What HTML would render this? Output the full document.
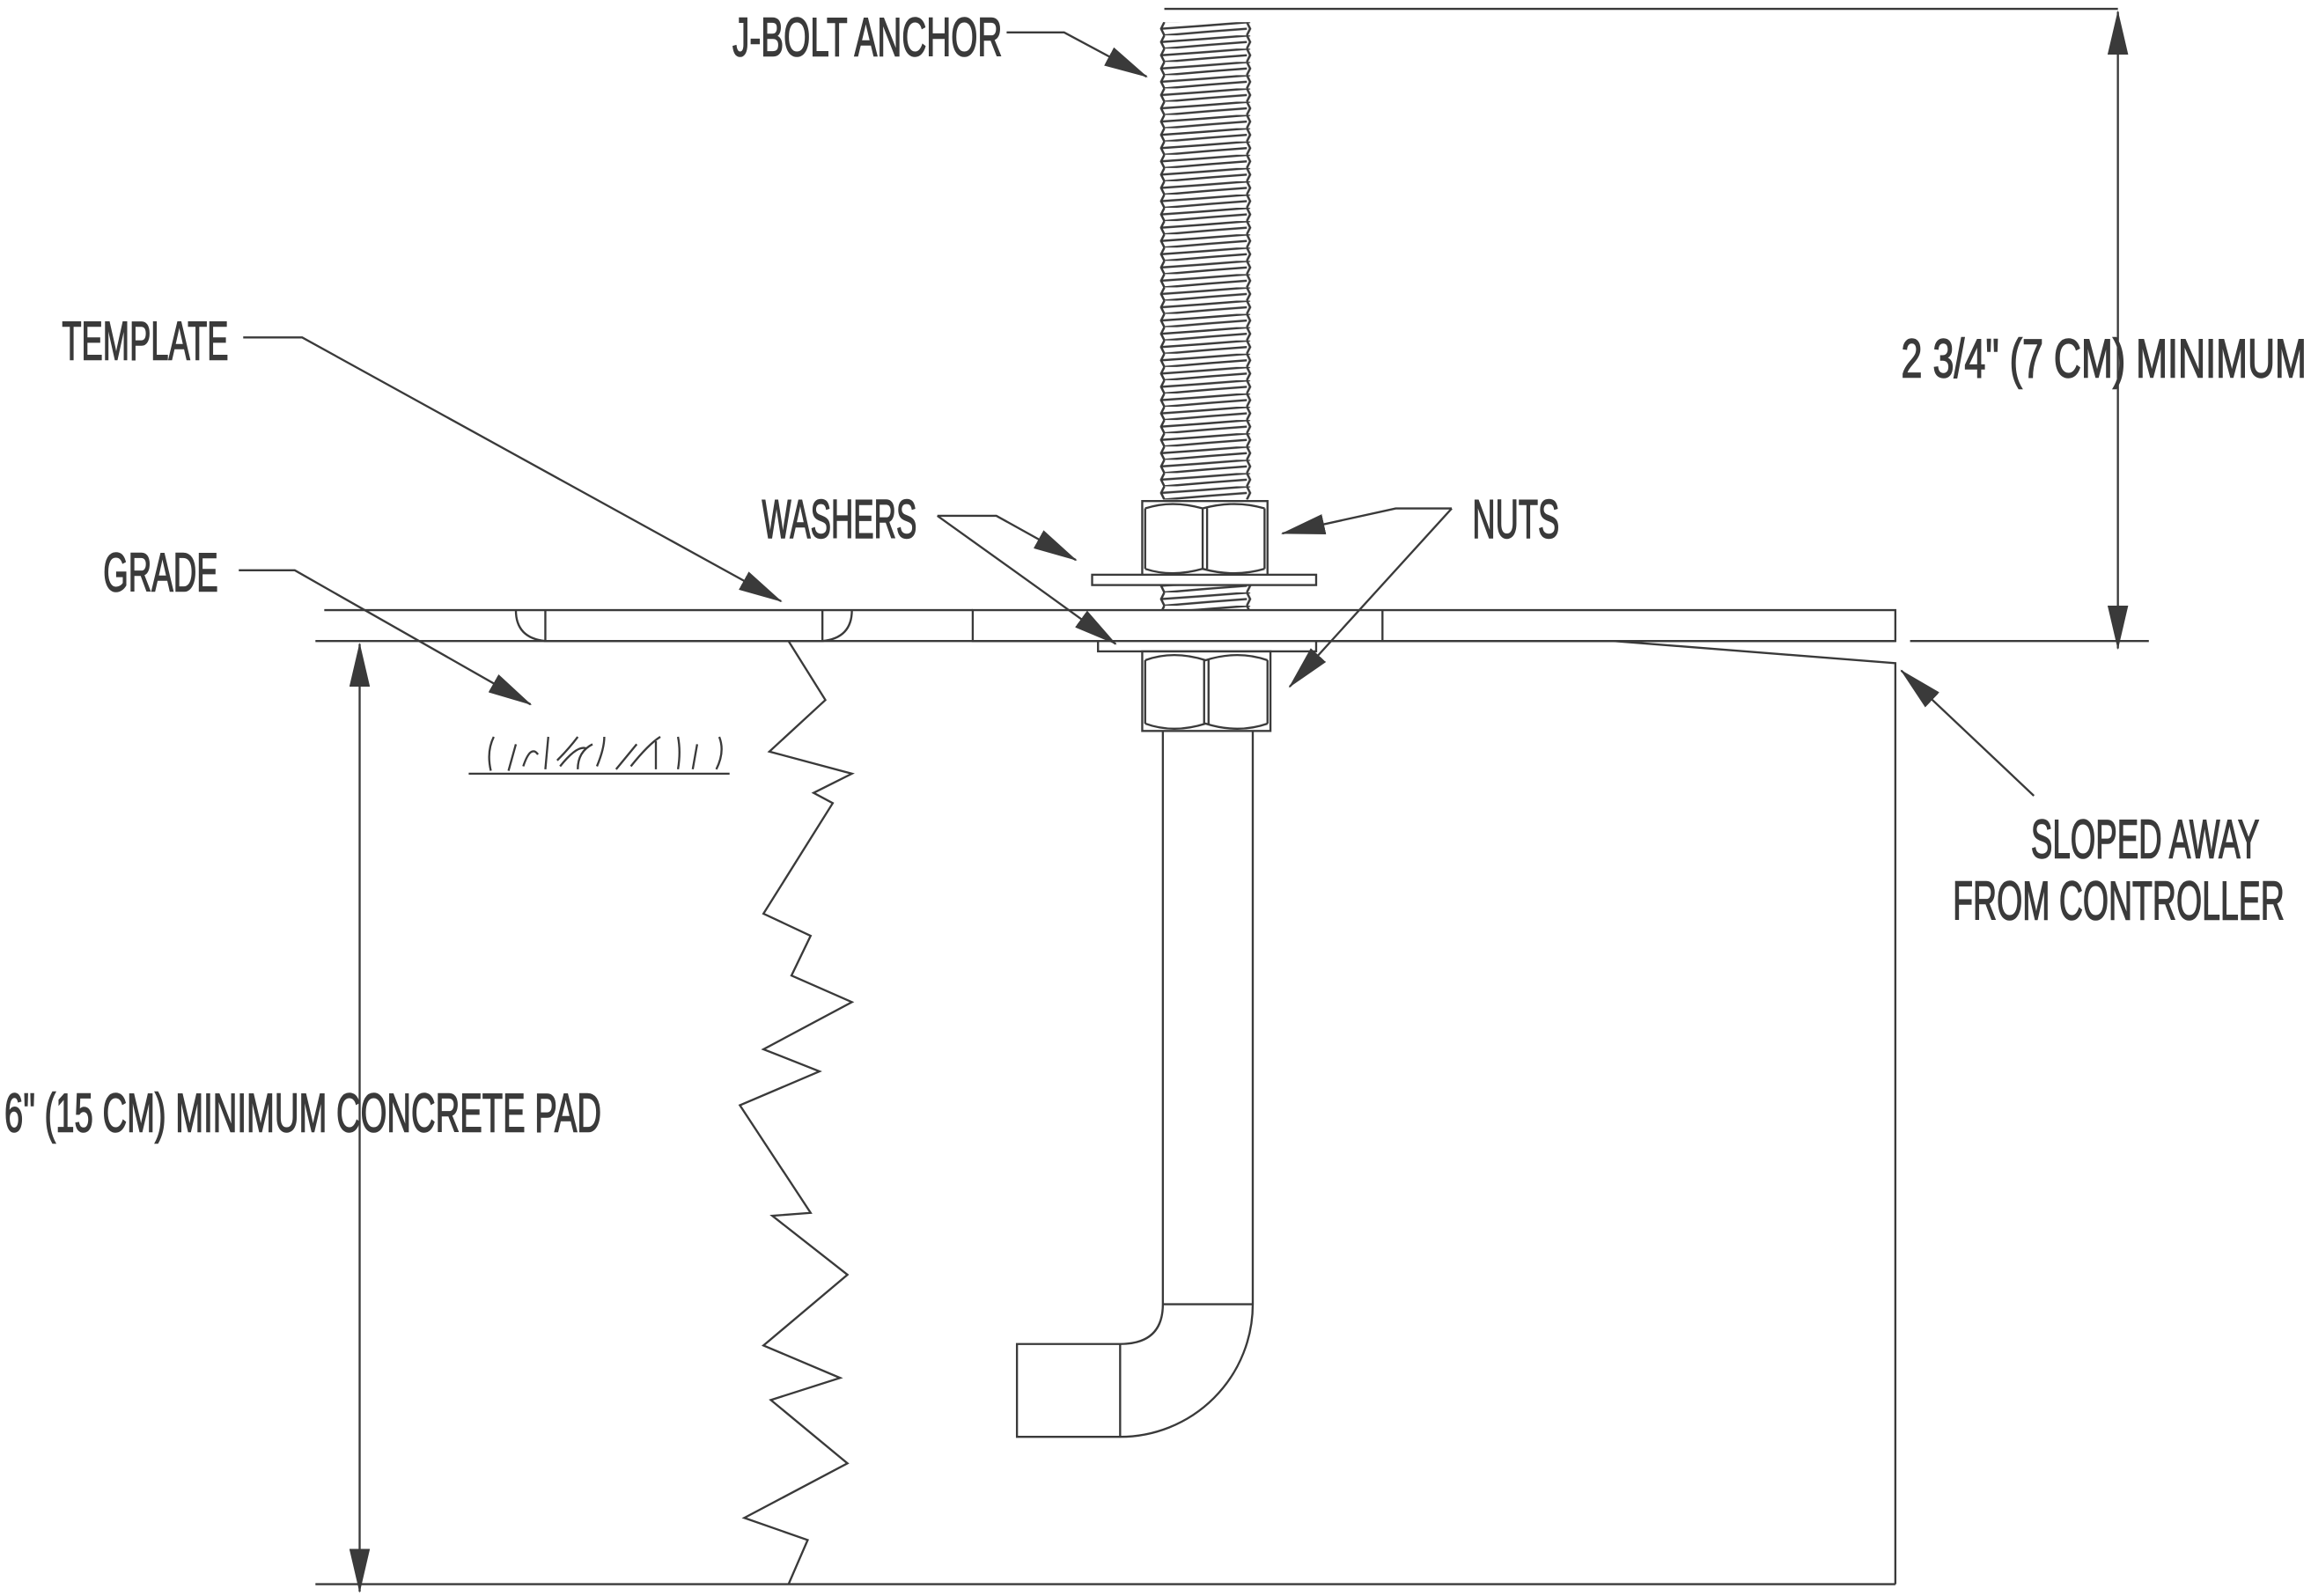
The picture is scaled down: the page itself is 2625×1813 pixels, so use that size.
<!DOCTYPE html>
<html><head><meta charset="utf-8"><style>
html,body{margin:0;padding:0;background:#fff}
svg{display:block}
text{font-family:"Liberation Sans",sans-serif;fill:#3a3a3a;font-size:37px;stroke:#3a3a3a;stroke-width:0.9}
</style></head><body>
<svg width="2625" height="1813" viewBox="0 0 1568 1083" xmlns="http://www.w3.org/2000/svg">
<defs>
<marker id="b" markerWidth="30" markerHeight="14" refX="29" refY="7" orient="auto-start-reverse" markerUnits="userSpaceOnUse"><path d="M0,0 L30,7 L0,14 Z" fill="#3a3a3a"/></marker>
<pattern id="th" x="787" y="15" width="62" height="9" patternUnits="userSpaceOnUse">
<path d="M3,0 L0.8,4.5 L3,9 M59,0 L61.2,4.5 L59,9 M0.8,4.5 Q31,2.5 61.2,0 M3,9 Q31,6.5 59,4.5" stroke="#3a3a3a" stroke-width="1.5" fill="none"/>
</pattern>
</defs>
<g stroke="#3a3a3a" stroke-width="1.4" fill="none">
<!-- dims -->
<line x1="790" y1="6" x2="1437" y2="6"/>
<line x1="1437" y1="8" x2="1437" y2="440" marker-start="url(#b)" marker-end="url(#b)"/>
<line x1="1296" y1="435" x2="1458" y2="435"/>
<line x1="244" y1="437" x2="244" y2="1080" marker-start="url(#b)" marker-end="url(#b)"/>
<!-- bolt threads -->
<rect x="787" y="15" width="62" height="324" fill="url(#th)" stroke="none"/>
<rect x="787" y="396" width="62" height="18" fill="url(#th)" stroke="none"/>
<!-- upper nut -->
<rect x="775" y="340" width="85" height="51"/>
<path d="M777,345 Q795,339 816,345 Q838,339 858,345 M777,386 Q795,392 816,386 Q838,392 858,386 M777,345 V386 M858,345 V386 M816,345 V386 M819,345 V386"/>
<rect x="741" y="390" width="152" height="7" fill="#fff"/>
<!-- template / grade -->
<line x1="220" y1="414" x2="660" y2="414"/>
<line x1="214" y1="435" x2="1286" y2="435"/>
<rect x="660" y="414" width="626" height="21"/>
<line x1="938" y1="414" x2="938" y2="435"/>
<path d="M370,414 V435 H558 V414 M350,414 Q350,433 370,435 M578,414 Q578,433 558,435"/>
<rect x="745" y="435" width="148" height="7" fill="#fff"/>
<!-- lower nut -->
<rect x="775" y="442" width="87" height="54"/>
<path d="M777,448 Q796,441 818,448 Q840,441 860,448 M777,491 Q796,498 818,491 Q840,498 860,491 M777,448 V491 M860,448 V491 M817,448 V491 M820,448 V491"/>
<!-- shank & hook -->
<path d="M789,496 V885 M850,496 V885 M789,885 H850 M789,885 Q789,912 760,912 H690 V975 H760 A90,90 0 0 0 850,885 M760,912 V975"/>
<!-- pad -->
<path d="M1095,435 L1286,450 V1075 M214,1075 H1286"/>
<polyline points="535,435 560,475 522,510 578,525 552,538 565,545 518,620 550,635 537,662 578,680 518,712 556,727 502,750 550,823 524,825 575,865 518,913 570,935 523,950 575,993 505,1030 548,1045 535,1075"/>
<!-- grass -->
<line x1="318" y1="525" x2="495" y2="525"/>
<path d="M333,523 Q330,510 335,500 M345,523 L350,505 M355,520 Q360,505 365,512 M370,522 L372,500 M378,516 Q386,508 392,500 M380,520 Q392,505 398,508 M392,522 Q392,510 402,505 M405,520 Q410,508 410,500 M418,522 L432,505 M428,520 Q440,505 448,500 M445,522 L445,503 M460,522 Q462,510 460,500 M470,522 L473,505 M486,522 Q492,510 488,500"/>
<!-- leaders -->
<polyline points="683,22 722,22 778,52" marker-end="url(#b)"/>
<polyline points="165,229 205,229 530,408" marker-end="url(#b)"/>
<polyline points="162,387 200,387 360,478" marker-end="url(#b)"/>
<polyline points="636,350 676,350 730,380" marker-end="url(#b)"/>
<polyline points="636,350 710,403 757,437" marker-end="url(#b)"/>
<polyline points="985,345 947,345 870,362" marker-end="url(#b)"/>
<polyline points="985,345 875,466" marker-end="url(#b)"/>
<polyline points="1380,540 1290,455" marker-end="url(#b)"/>
</g>
<g>
<text x="497" y="38" textLength="183" lengthAdjust="spacingAndGlyphs">J-BOLT ANCHOR</text>
<text x="42" y="244" textLength="113" lengthAdjust="spacingAndGlyphs">TEMPLATE</text>
<text x="70" y="401" textLength="78" lengthAdjust="spacingAndGlyphs">GRADE</text>
<text x="517" y="365" textLength="105" lengthAdjust="spacingAndGlyphs">WASHERS</text>
<text x="999" y="365" textLength="59" lengthAdjust="spacingAndGlyphs">NUTS</text>
<text x="1290" y="256" textLength="275" lengthAdjust="spacingAndGlyphs">2 3/4" (7 CM) MINIMUM</text>
<text x="1378" y="582" textLength="155" lengthAdjust="spacingAndGlyphs">SLOPED AWAY</text>
<text x="1325" y="624" textLength="225" lengthAdjust="spacingAndGlyphs">FROM CONTROLLER</text>
<text x="3" y="768" textLength="405" lengthAdjust="spacingAndGlyphs">6" (15 CM) MINIMUM CONCRETE PAD</text>
</g>
</svg>
</body></html>
